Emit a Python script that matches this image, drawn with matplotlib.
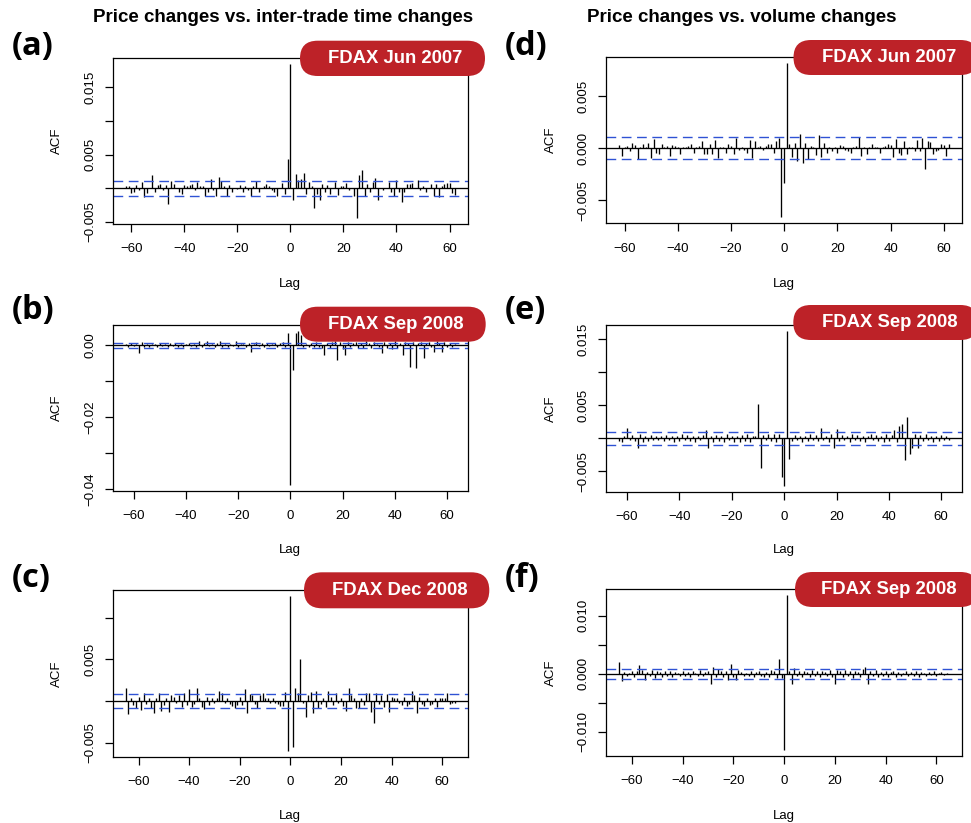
import numpy as np
import matplotlib
matplotlib.use("Agg")
import matplotlib.pyplot as plt
from matplotlib.patches import FancyBboxPatch
from matplotlib.transforms import IdentityTransform

# ---------------------------------------------------------------------------
# Cross-correlation values (units of 1e-4), lags -max_lag .. +max_lag
# ---------------------------------------------------------------------------
max_lag_a = 62
ccf_a = [4, 4, -7, -6, 5, -3, 10, -13, -7, 1, 20, -5, 5, 7, -3, 5, -24, 11, 6, 1,
         -5, -8, 5, 4, 5, 6, -3, 9, 4, 4, -11, -6, 14, -3, -11, 16, 11, 4, -11, 5,
         -6, 1, -1, 5, -5, 3, -3, -11, 4, 11, -5, 1, 4, 6, 3, -3, -6, -11, 1, 8,
         -8, 43, 184,
         -17, 21, 13, 14, 22, -8, 10, 4, -29, -8, -17, 6, -6, 5, -8, 1, 9, -10, 4, 4,
         8, -3, 1, -11, -44, 20, 27, -11, 6, -5, 10, 15, -17, 1, -3, 1, 10, -6, -11, 13,
         -6, -20, -5, 6, 6, 8, 1, 13, -3, 4, -6, 1, 6, -11, 6, -13, 3, 6, 8, 8,
         -7, -10]
ci_a = 0.00108

max_lag_b = 63
ccf_b = [3, -4, 5, -3, 4, -22, 9, -4, 3, -5, 4, 3, -5, 6, -3, 4, -4, 5, -3, 6,
         -4, 3, -5, 4, 6, -3, 4, -5, 13, -4, 5, 11, -3, 4, -5, 6, 13, -4, 3, -5,
         4, -3, 11, -5, 4, 3, -6, 5, -19, 4, 9, -3, 5, -4, 6, -3, 4, 5, -4, 6,
         9, -5,
         35, -389, -70,
         33, 40, 28, -5, 4, -6, 5, -4, 8, -5, -8, -28, 6, -9, 10, 12, -42, 8, -10, -26,
         9, -5, 6, 10, -8, 5, -7, 11, 6, -9, 8, 4, -6, -22, 10, -8, 6, -10, 12, -7,
         5, -26, 9, 6, -61, 10, -63, 7, 9, -37, 5, 9, -4, -18, 11, 6, -20, 8, -5, 6,
         -5, 4]
ci_b = 0.00075

max_lag_c = 65
ccf_c = [15, -16, 4, -5, -9, 5, -11, 9, -4, 3, -9, -15, 3, 10, -12, -5, 3, -13, 7, 5,
         -3, 7, -7, 9, -5, 14, -7, -4, 16, 3, -7, -10, 5, -5, 3, -3, 3, 12, 9, -3,
         3, -4, -6, -8, -5, 5, -5, 14, -15, 8, 7, -4, -8, 7, 10, 4, 3, -2, 3, -3,
         -4, -6, -6, 11,
         -60, 126, -55,
         16, 9, 51, -2, -19, 7, 11, -15, 12, -9, -4, 3, -7, 12, 5, -5, 9, -3, 4, -6,
         -12, 15, 7, 4, -8, -8, 4, -5, 10, 9, -13, -26, 9, -4, 7, -7, 8, -13, 5, 4,
         3, -3, -5, 5, -6, -4, 12, 7, -14, 5, -4, -6, 3, -5, -4, 4, -7, 3, 4, 4,
         9, -4, -3, -2]
ci_c = 0.00080

max_lag_d = 62
ccf_d = [3, -7, 1, 2, -3, 5, 3, -10, 1, 4, 1, 5, -9, 9, -4, -5, 4, 1, 2, -7,
         3, 2, 1, -5, 1, 1, 2, 4, -4, 1, 2, 7, -5, -5, 4, -5, 8, -9, 1, 1,
         -4, 4, 2, -5, 10, -2, 1, -2, -4, 8, -9, 7, 1, 2, -2, 2, 4, 4, -4, 7,
         10,
         -66, -33, 82,
         4, -8, 5, -12, 14, -14, 5, -10, 2, 1, -6, 13, -8, 5, -4, 1, -3, 1, -4, 3,
         2, -2, -3, -4, 1, 2, 11, -7, 1, -5, 1, 4, 1, 1, -4, 1, 2, 4, 3, -8,
         9, -4, -6, 7, -5, 1, 1, -3, 8, -3, 10, -20, 7, 6, -5, -3, -2, 4, 3, -7,
         4]
ci_d = 0.00107

max_lag_e = 63
ccf_e = [-4, -5, 3, 15, -3, 5, -4, -15, 6, -5, 3, -4, 5, -3, 4, -2, 3, -4, 5, -3,
         4, -5, 3, -4, 6, -3, 5, -4, 3, -5, 4, -3, 5, 13, -15, 4, -6, 5, -4, 3,
         -5, 6, -3, 4, -5, 3, -6, 5, -4, 6, -5, 3, 4, 52, -45, 5, -3, 6, -4, 7,
         -5, 6,
         -58, -72, 163,
         -31, -4, 5, -3, 4, -5, 3, -4, 6, -3, 5, -4, 15, -3, 4, -5, 6, -14, 14, -4,
         5, -3, 4, -5, 6, -3, 5, -4, 3, -5, 4, 6, -3, 5, -4, 3, -5, 6, -4, 5,
         13, -5, 18, 21, -33, 33, -23, -15, 6, -14, 5, -4, 6, -3, 4, -5, 3, -4, 5, -3,
         4, -3]
ci_e = 0.00096

max_lag_f = 65
ccf_f = [20, -13, 3, -4, 2, 5, -5, 4, 16, 7, -11, 3, -4, 6, -7, 4, 3, -5, 5, -3,
         4, -6, 3, 2, -4, 5, -3, 3, -5, 4, 2, -4, 6, -3, 3, 4, -17, 12, -6, 8,
         4, -5, 5, -10, 17, -5, -10, 6, 3, -4, 2, -3, 4, -6, 3, 5, -4, -6, 3, -5,
         6, 4, -7,
         26, -8, -131, 135,
         5, -17, 10, -4, 4, -6, 5, 3, -5, 6, -3, 4, -6, 5, 3, -4, 6, -5, -18, 7,
         4, -5, 6, -3, 5, -7, 4, 3, -5, 8, 12, -18, 5, -4, 6, -5, 3, -3, 4, -6,
         3, 4, -5, 3, -4, 2, 5, -4, 3, -3, 4, -5, 3, 2, -4, 3, -2, 4, -3, 2,
         3, -2, 2, -1]
ci_f = 0.00083

x_ticks = [-60, -40, -20, 0, 20, 40, 60]

yticks_a = [-0.005, 0.0, 0.005, 0.010, 0.015]
ylabels_a = ["\u22120.005", "", "0.005", "", "0.015"]
yticks_b = [-0.04, -0.03, -0.02, -0.01, 0.0]
ylabels_b = ["\u22120.04", "", "\u22120.02", "", "0.00"]
yticks_c = [-0.005, 0.0, 0.005, 0.010]
ylabels_c = ["\u22120.005", "", "0.005", ""]
yticks_d = [-0.005, 0.0, 0.005]
ylabels_d = ["\u22120.005", "0.000", "0.005"]
yticks_e = [-0.005, 0.0, 0.005, 0.010, 0.015]
ylabels_e = ["\u22120.005", "", "0.005", "", "0.015"]
yticks_f = [-0.010, -0.005, 0.0, 0.005, 0.010]
ylabels_f = ["\u22120.010", "", "0.000", "", "0.010"]

panel_letters = ["(a)", "(b)", "(c)", "(d)", "(e)", "(f)"]
badge_texts = ["FDAX Jun 2007", "FDAX Sep 2008", "FDAX Dec 2008",
               "FDAX Jun 2007", "FDAX Sep 2008", "FDAX Sep 2008"]
column_titles = ["Price changes vs. inter-trade time changes",
                 "Price changes vs. volume changes"]

# ---------------------------------------------------------------------------
W, H = 971, 823
plt.rcParams["font.family"] = ["Liberation Sans", "DejaVu Sans"]
fig = plt.figure(figsize=(W / 100, H / 100), dpi=100)

BAND_BLUE = "#2F52D4"
BADGE_RED = "#BD2228"


def pix_axes(x0, y0, x1, y1):
    return fig.add_axes([x0 / W, 1 - y1 / H, (x1 - x0) / W, (y1 - y0) / H])


def ax_center_x(ax):
    b = ax.get_position()
    return (b.x0 + b.width / 2) * W


def ax_center_y(ax):
    b = ax.get_position()
    return (b.y0 + b.height / 2) * H


def draw_ccf(ax, values, max_lag, ci, yticks, ylabels, lab_x, lag_y):
    vals = np.asarray(values, dtype=float) * 1e-4
    lags = np.arange(-max_lag, max_lag + 1)
    ax.vlines(lags, 0, vals, color="black", lw=0.95)
    ax.axhline(0, color="black", lw=0.95)
    for s in (ci, -ci):
        ax.axhline(s, color=BAND_BLUE, lw=1.0, ls=(0, (7, 4)))
    lo = min(vals.min(), -ci)
    hi = max(vals.max(), ci)
    r = hi - lo
    ax.set_ylim(lo - 0.04 * r, hi + 0.04 * r)
    ax.set_xlim(-max_lag * 1.08, max_lag * 1.08)
    ax.set_xticks(x_ticks)
    ax.set_yticks(yticks, ylabels)
    for sp in ("top", "right", "left", "bottom"):
        ax.spines[sp].set_linewidth(0.9)
    ax.tick_params(direction="out", length=6, width=0.9, labelsize=9.5, pad=6)
    ax.tick_params(axis="x", pad=8)
    ax.tick_params(axis="y", labelrotation=90)
    for lbl in ax.get_yticklabels():
        lbl.set_va("center")
    ax.set_xlabel("Lag", fontsize=9.5, va="center")
    ax.set_ylabel("ACF", fontsize=9.5, va="center", ha="center")
    ax.xaxis.set_label_coords(ax_center_x(ax), H - lag_y, transform=IdentityTransform())
    ax.yaxis.set_label_coords(lab_x, ax_center_y(ax), transform=IdentityTransform())


def badge(x0, y0, x1, y1, text, tx, ty):
    h = y1 - y0
    p = FancyBboxPatch((x0, H - y1), x1 - x0, h,
                       boxstyle=f"round,pad=0,rounding_size={h / 2}",
                       transform=IdentityTransform(), facecolor=BADGE_RED,
                       edgecolor="none", zorder=5)
    fig.add_artist(p)
    fig.text(tx / W, 1 - ty / H, text, color="white", fontsize=13.3,
             fontweight="bold", ha="center", va="center", zorder=6)


left_x = (112.7, 468.0)
right_x = (606.0, 962.3)
rows_left = [(58.3, 224.0), (324.7, 491.0), (590.0, 757.0)]
rows_right = [(56.7, 223.3), (324.7, 492.0), (589.3, 756.0)]
lag_label_y = [284, 550, 816]

specs_left = [(ccf_a, max_lag_a, ci_a, yticks_a, ylabels_a),
              (ccf_b, max_lag_b, ci_b, yticks_b, ylabels_b),
              (ccf_c, max_lag_c, ci_c, yticks_c, ylabels_c)]
specs_right = [(ccf_d, max_lag_d, ci_d, yticks_d, ylabels_d),
               (ccf_e, max_lag_e, ci_e, yticks_e, ylabels_e),
               (ccf_f, max_lag_f, ci_f, yticks_f, ylabels_f)]

for i, (spec, (y0, y1)) in enumerate(zip(specs_left, rows_left)):
    ax = pix_axes(left_x[0], y0, left_x[1], y1)
    draw_ccf(ax, *spec, lab_x=57, lag_y=lag_label_y[i])
for i, (spec, (y0, y1)) in enumerate(zip(specs_right, rows_right)):
    ax = pix_axes(right_x[0], y0, right_x[1], y1)
    draw_ccf(ax, *spec, lab_x=551, lag_y=lag_label_y[i])

# Column headings
fig.text(283 / W, 1 - 18 / H, column_titles[0], fontsize=13.5, fontweight="bold",
         ha="center", va="center")
fig.text(742 / W, 1 - 18 / H, column_titles[1], fontsize=13.5, fontweight="bold",
         ha="center", va="center")

# Panel letters
letter_pos = [(12, 47), (12, 311), (12, 579), (505, 47), (505, 311), (505, 579)]
for (lx, ly), letter in zip(letter_pos, panel_letters):
    fig.text(lx / W, 1 - ly / H, letter, fontsize=23.5, fontweight="bold",
             family=["Open Sans", "DejaVu Sans"], ha="left", va="center")

# Contract badges
badge(300, 40.7, 485, 76, badge_texts[0], 395.5, 58.5)
badge(300, 306.7, 485.7, 341.7, badge_texts[1], 395.8, 324)
badge(304, 572.3, 489.3, 608.3, badge_texts[2], 400.3, 590.5)
badge(793.5, 40, 978, 75, badge_texts[3], 889, 57.5)
badge(793.3, 305, 978, 340, badge_texts[4], 889.5, 322.5)
badge(795, 572, 978, 607, badge_texts[5], 889, 590)

fig.savefig("out.png", dpi=100)
